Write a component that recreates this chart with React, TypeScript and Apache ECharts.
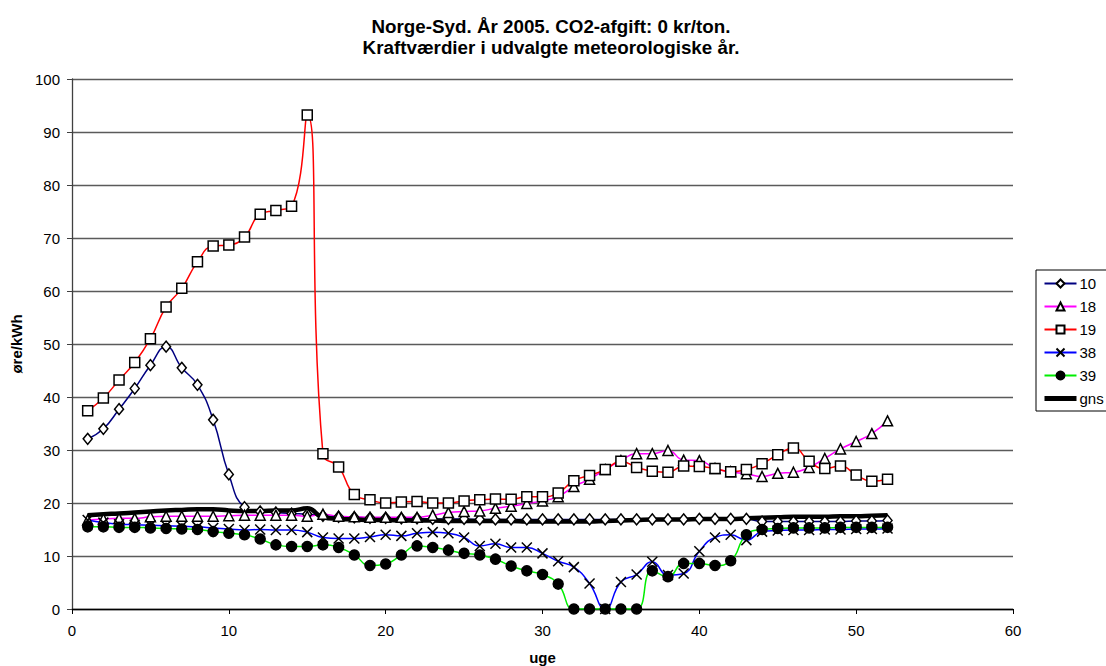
import React, { useEffect, useRef } from "react";
import * as echarts from "echarts";

// Weeks 1..52
const weeks: number[] = Array.from({ length: 52 }, (_, i) => i + 1);

const s10: number[] = [
  32.1, 34.0, 37.7, 41.6, 46.0, 49.5, 45.5, 42.3, 35.7, 25.4,
  19.2, 18.4, 18.2, 18.0, 17.9, 17.6, 17.4, 17.3, 17.2, 17.2,
  17.1, 17.1, 17.0, 17.0, 17.0, 16.9, 16.9, 16.9, 16.9, 16.9,
  16.9, 16.9, 16.9, 16.9, 16.9, 16.9, 16.9, 16.9, 16.9, 17.0,
  17.0, 17.0, 17.0, 16.5, 16.5, 16.5, 16.5, 16.5, 16.5, 16.6,
  16.6, 16.7,
];

const s18: number[] = [
  16.8, 17.0, 17.1, 17.1, 17.4, 17.5, 17.5, 17.5, 17.5, 17.6,
  17.7, 17.7, 17.7, 17.7, 17.5, 17.9, 17.5, 17.4, 17.3, 17.3,
  17.3, 17.3, 17.7, 18.2, 18.4, 18.5, 19.0, 19.4, 19.9, 20.4,
  21.2, 23.1, 24.5, 26.3, 28.0, 29.3, 29.3, 29.9, 28.1, 28.0,
  26.5, 25.9, 25.5, 25.0, 25.6, 25.8, 26.7, 28.4, 30.2, 31.6,
  33.1, 35.5,
];

const s19: number[] = [
  37.4, 39.8, 43.2, 46.5, 51.0, 57.0, 60.5, 65.5, 68.5, 68.7,
  70.2, 74.5, 75.2, 76.0, 93.2, 29.3, 26.8, 21.6, 20.6, 20.0,
  20.2, 20.3, 20.0, 20.0, 20.4, 20.6, 20.75, 20.7, 21.2, 21.2,
  21.9, 24.2, 25.2, 26.3, 27.9, 26.7, 26.0, 25.8, 27.0, 26.9,
  26.5, 25.9, 26.3, 27.4, 29.1, 30.4, 27.9, 26.5, 27.0, 25.3,
  24.1, 24.5,
];

const s38: number[] = [
  16.8, 16.3, 16.0, 15.9, 15.8, 15.7, 15.6, 15.5, 15.3, 15.1,
  14.9, 15.0, 14.9, 14.9, 14.5, 13.5, 13.3, 13.3, 13.6, 14.0,
  13.8, 14.3, 14.5, 14.3, 13.5, 11.9, 12.3, 11.6, 11.6, 10.5,
  9.0, 7.9, 4.8, 0.0, 5.1, 6.5, 8.9, 6.4, 6.7, 10.9,
  13.5, 14.0, 13.0, 14.6, 14.8, 14.9, 14.9, 15.0, 15.0, 15.1,
  15.1, 15.2,
];

const s39: number[] = [
  15.5, 15.5, 15.4, 15.4, 15.3, 15.2, 15.1, 15.0, 14.6, 14.3,
  14.0, 13.2, 12.1, 11.8, 11.8, 12.1, 11.6, 10.2, 8.2, 8.5,
  10.2, 11.9, 11.6, 11.1, 10.5, 10.2, 9.4, 8.1, 7.2, 6.5,
  4.7, 0.0, 0.0, 0.0, 0.0, 0.0, 7.2, 6.1, 8.6, 8.6,
  8.2, 9.1, 14.0, 15.0, 15.2, 15.3, 15.3, 15.3, 15.4, 15.4,
  15.4, 15.4,
];

const gns: number[] = [
  17.7, 17.9, 18.0, 18.2, 18.4, 18.6, 18.7, 18.8, 18.8, 18.6,
  18.5, 18.5, 18.6, 18.6, 19.0, 17.3, 17.0, 16.9, 16.8, 16.8,
  16.7, 16.7, 16.7, 16.6, 16.6, 16.6, 16.6, 16.6, 16.5, 16.5,
  16.5, 16.5, 16.5, 16.6, 16.7, 16.8, 16.9, 16.9, 16.9, 17.0,
  17.0, 17.0, 17.1, 17.2, 17.3, 17.4, 17.4, 17.4, 17.5, 17.5,
  17.6, 17.7,
];

const titleLines: string[] = [
  "Norge-Syd. År 2005. CO2-afgift: 0 kr/ton.",
  "Kraftværdier i udvalgte meteorologiske år.",
];

const FONT = "'Liberation Sans', Arial, Helvetica, sans-serif";
const CROSS = "path://M0,0 L10,10 M10,0 L0,10";

const pairs = (vals: number[]) => weeks.map((w, i) => [w, vals[i]]);

export default function App() {
  const ref = useRef<HTMLDivElement>(null);

  useEffect(() => {
    if (!ref.current) return;
    const chart = echarts.init(ref.current, null, { renderer: "svg" });

    const markerSeries = (
      name: string,
      vals: number[],
      lineColor: string,
      symbol: string,
      symbolSize: number | number[],
      fill: string
    ) => ({
      name,
      type: "line",
      data: pairs(vals),
      smooth: 0.5,
      symbol,
      symbolSize,
      showAllSymbol: true,
      lineStyle: { color: lineColor, width: 1.5 },
      itemStyle: { color: fill, borderColor: "#000", borderWidth: 1.5 },
      emphasis: { disabled: true },
    });

    chart.setOption({
      animation: false,
      backgroundColor: "#fff",
      textStyle: { fontFamily: FONT },
      title: {
        text: titleLines.join("\n"),
        left: 546,
        top: 11,
        textAlign: "center",
        textStyle: {
          fontFamily: FONT,
          fontSize: 18.8,
          fontWeight: "bold",
          color: "#000",
          lineHeight: 21,
        },
      },
      legend: {
        orient: "vertical",
        left: 1036,
        top: 270,
        padding: [6, 30, 5, 6],
        itemWidth: 32,
        itemHeight: 10,
        itemGap: 8,
        borderColor: "#000",
        borderWidth: 1,
        backgroundColor: "#fff",
        data: [
          "10",
          "18",
          "19",
          "38",
          "39",
          {
            name: "gns",
            itemStyle: { color: "transparent", borderWidth: 0, opacity: 0 },
            lineStyle: { width: 5, color: "#000" },
          },
        ],
        textStyle: { fontFamily: FONT, fontSize: 15, color: "#000", padding: [0, 0, 0, -2] },
      },
      grid: { left: 72, right: 93, top: 79, bottom: 57, outerBoundsMode: "none", containLabel: false },
      xAxis: {
        type: "value",
        min: 0,
        max: 60,
        interval: 10,
        name: "uge",
        nameLocation: "middle",
        nameGap: 41,
        nameTextStyle: { fontFamily: FONT, fontSize: 15, fontWeight: "bold", color: "#000" },
        axisLine: { lineStyle: { color: "#000", width: 1.3 } },
        axisTick: { show: true, length: 5, lineStyle: { color: "#000" } },
        axisLabel: { fontFamily: FONT, fontSize: 15, color: "#000", margin: 14 },
        splitLine: { show: false },
      },
      yAxis: {
        type: "value",
        min: 0,
        max: 100,
        interval: 10,
        name: "øre/kWh",
        nameLocation: "middle",
        nameGap: 48,
        nameRotate: 90,
        nameTextStyle: { fontFamily: FONT, fontSize: 15, fontWeight: "bold", color: "#000" },
        axisLine: { show: true, lineStyle: { color: "#404040", width: 1.3 } },
        axisTick: { show: true, length: 5, lineStyle: { color: "#404040" } },
        axisLabel: { fontFamily: FONT, fontSize: 15, color: "#000", margin: 12 },
        splitLine: { show: true, lineStyle: { color: "#5a5a5a", width: 1.3 } },
      },
      series: [
        markerSeries("10", s10, "#000080", "diamond", [9, 11], "#fff"),
        markerSeries("18", s18, "#ff00ff", "triangle", 10, "#fff"),
        markerSeries("19", s19, "#ff0000", "rect", 10, "#fff"),
        markerSeries("38", s38, "#0000ff", CROSS, 10, "transparent"),
        markerSeries("39", s39, "#00ee00", "circle", 10, "#000"),
        {
          name: "gns",
          type: "line",
          data: pairs(gns),
          smooth: 0.5,
          symbol: "none",
          lineStyle: { color: "#000", width: 4.5 },
          itemStyle: { color: "#000" },
          emphasis: { disabled: true },
        },
      ],
    });

    return () => chart.dispose();
  }, []);

  return (
    <div
      ref={ref}
      style={{ position: "absolute", left: 0, top: 0, width: 1106, height: 666 }}
    />
  );
}
